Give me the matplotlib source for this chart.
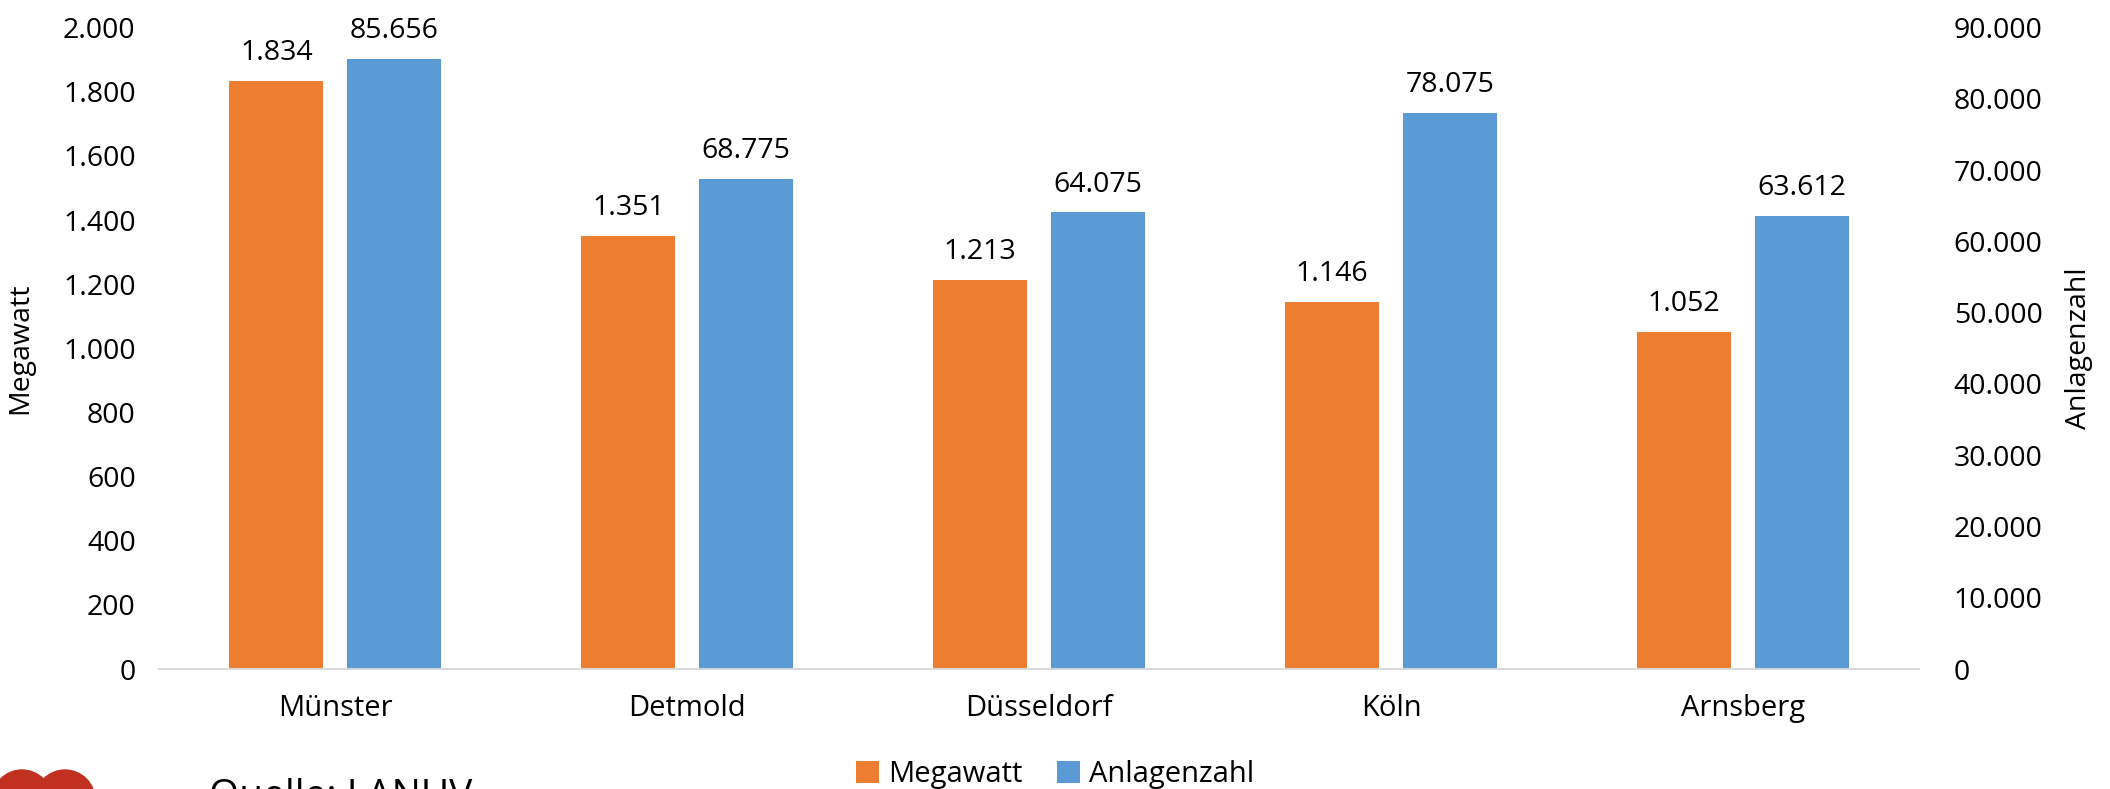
import numpy as np
import matplotlib.pyplot as plt
from matplotlib.patches import Circle
from matplotlib.ticker import FuncFormatter

plt.rcParams['font.family'] = ['Open Sans', 'DejaVu Sans']
plt.rcParams['font.size'] = 20

regions = ['Münster', 'Detmold', 'Düsseldorf', 'Köln', 'Arnsberg']
megawatt = [1834, 1351, 1213, 1146, 1052]
anlagen = [85656, 68775, 64075, 78075, 63612]

orange = '#ED7D31'
blue = '#5B9BD5'

def de_fmt(v, pos=None):
    return f'{int(round(v)):,}'.replace(',', '.')

fig = plt.figure(figsize=(21.1, 7.89), dpi=100)
ax = fig.add_axes([0.0755, 0.152, 0.834, 0.813])
ax2 = ax.twinx()

x = np.arange(len(regions))
w = 0.267
off = 0.1675
b1 = ax.bar(x - off, megawatt, w, color=orange, label='Megawatt')
b2 = ax2.bar(x + off, anlagen, w, color=blue, label='Anlagenzahl')

for rect, v in zip(b1, megawatt):
    ax.annotate(de_fmt(v), (rect.get_x() + rect.get_width() / 2, v),
                xytext=(0, 10), textcoords='offset points',
                ha='center', va='bottom', fontsize=20.5)
for rect, v in zip(b2, anlagen):
    ax2.annotate(de_fmt(v), (rect.get_x() + rect.get_width() / 2, v),
                 xytext=(0, 10), textcoords='offset points',
                 ha='center', va='bottom', fontsize=20.5)

ax.set_xlim(-0.5, len(regions) - 0.5)
ax.set_ylim(0, 2000)
ax.set_yticks(np.arange(0, 2001, 200))
ax2.set_ylim(0, 90000)
ax2.set_yticks(np.arange(0, 90001, 10000))
ax.yaxis.set_major_formatter(FuncFormatter(de_fmt))
ax2.yaxis.set_major_formatter(FuncFormatter(de_fmt))
ax.set_xticks(x)
ax.set_xticklabels(regions)

for a in (ax, ax2):
    for s in ('top', 'left', 'right'):
        a.spines[s].set_visible(False)
    a.spines['bottom'].set_color('#D9D9D9')
    a.spines['bottom'].set_linewidth(1.3)
    a.tick_params(length=0, labelsize=20.5)
ax.tick_params(axis='y', pad=17)
ax2.tick_params(axis='y', pad=25)
ax.tick_params(axis='x', pad=18, labelsize=21)

ax.set_ylabel('Megawatt', fontsize=20.5)
ax2.set_ylabel('Anlagenzahl', fontsize=20.5)
ax.yaxis.set_label_coords(-0.071, 0.5)
ax2.yaxis.set_label_coords(1.083, 0.5)

h1, l1 = ax.get_legend_handles_labels()
h2, l2 = ax2.get_legend_handles_labels()
fig.legend(h1 + h2, l1 + l2, loc='center', bbox_to_anchor=(0.5, 0.018),
           ncol=2, frameon=False, fontsize=21, handlelength=0.8,
           handleheight=0.8, handletextpad=0.3, columnspacing=1.2)

# source line, cut off at the bottom edge as in the original
fig.text(0.099, -0.034, 'Quelle: LANUV', fontsize=28, va='bottom', ha='left')
for cx in (0.22, 0.65):
    fig.patches.append(Circle((cx, -0.11), 0.3,
                              transform=fig.dpi_scale_trans,
                              color='#C0311F', zorder=5))

fig.savefig('out.png', dpi=100)
